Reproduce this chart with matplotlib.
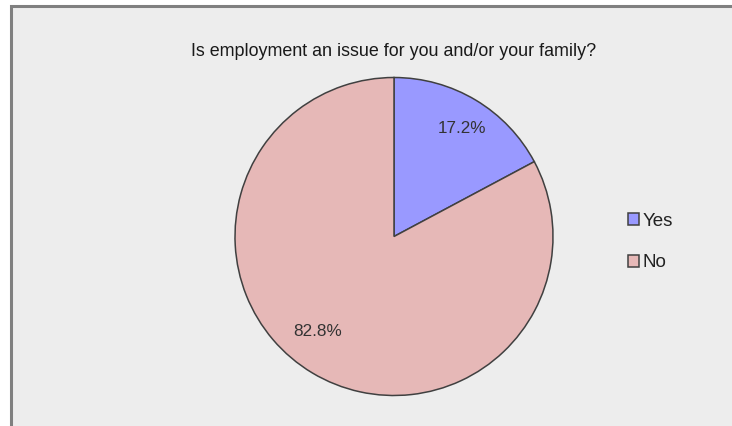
import matplotlib
matplotlib.use("Agg")
import matplotlib.pyplot as plt
from matplotlib.patches import Rectangle

labels = ["Yes", "No"]
shares = [17.2, 82.8]
colors = ["#9999FF", "#E6B8B7"]
title = "Is employment an issue for you and/or your family?"

W, H = 732, 426
fig = plt.figure(figsize=(W / 100, H / 100), dpi=100)
fig.patch.set_facecolor("white")

# chart area panel with grey frame
frame = Rectangle((11 / W, -0.05), 1.2, 1 - 6 / H + 0.05, transform=fig.transFigure,
                  facecolor="#EDEDED", edgecolor="#808080", linewidth=2.2, zorder=-10)
fig.patches.append(frame)

cx, cy, half, r_px = 394, 236.5, 164, 159
ax = fig.add_axes([(cx - half) / W, 1 - (cy + half) / H, 2 * half / W, 2 * half / H])
ax.set_facecolor("none")
ax.set_zorder(5)
wedges, texts, autotexts = ax.pie(
    shares, colors=colors, startangle=90, counterclock=False,
    autopct="%.1f%%", pctdistance=0.8, radius=1.0,
    wedgeprops=dict(edgecolor="#404040", linewidth=1.1),
    textprops=dict(fontsize=12.3, color="#333333", family="Liberation Sans"),
)
# nudge the percentage labels inside their slices
autotexts[0].set_position((0.43, 0.68))
autotexts[1].set_position((-0.48, -0.60))
ax.set_xlim(-half / r_px, half / r_px)
ax.set_ylim(-half / r_px, half / r_px)
ax.set_aspect("equal")
ax.axis("off")

fig.text(cx / W, 1 - 52 / H, title, ha="center", va="center", fontsize=12.9,
         color="#1a1a1a", family="Liberation Sans")

leg = fig.legend(wedges, labels, loc="center left", bbox_to_anchor=(611 / W, 1 - 242 / H),
                 frameon=False, handlelength=0.6, handleheight=0.6,
                 handletextpad=0.2, labelspacing=1.3,
                 prop=dict(family="Liberation Sans", size=13.5))
for t in leg.get_texts():
    t.set_color("#222222")

fig.savefig("out.png", dpi=100, facecolor=fig.get_facecolor())
